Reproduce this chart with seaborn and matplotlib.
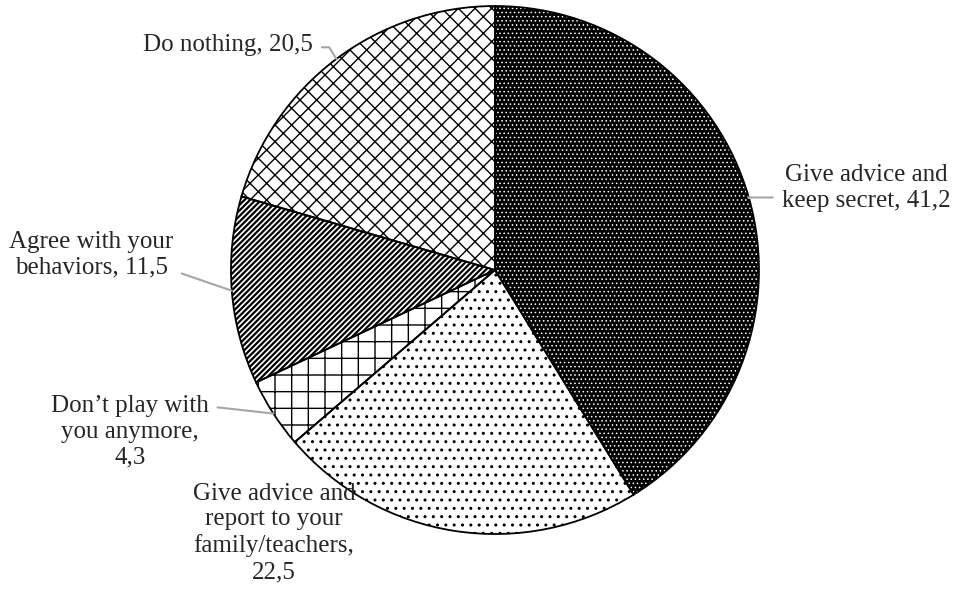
import numpy as np
import matplotlib
matplotlib.use("Agg")
import matplotlib.pyplot as plt
import seaborn as sns

# --- data (clockwise from 12 o'clock) ---
categories = [
    "Give advice and\nkeep secret",
    "Give advice and\nreport to your\nfamily/teachers",
    "Don\u2019t play with\nyou anymore",
    "Agree with your\nbehaviors",
    "Do nothing",
]
values = [41.2, 22.5, 4.3, 11.5, 20.5]
value_text = ["41,2", "22,5", "4,3", "11,5", "20,5"]
label_sep = [", ", ",\n", ",\n", ", ", ", "]

# --- styling / layout ---
hatches = ["....", "..", "+", "//////", "xx"]
face_colors = ["black", "white", "white", "white", "white"]
hatch_colors = ["white", "black", "black", "black", "black"]
hatch_widths = [0.6, 1.0, 1.0, 1.6, 1.0]
label_pos = [(1.405, 0.311), (-0.837, -0.996), (-1.383, -0.614), (-1.530, 0.057), (-1.011, 0.852)]
leader_relpos = [(0.0, 0.3), None, (1.0, 0.85), (1.0, 0.25), (1.0, 0.4)]
leader_conn = [
    "angle,angleA=0,angleB=-32,rad=0",
    None,
    "arc3,rad=0",
    "angle,angleA=0,angleB=-19,rad=0",
    "angle,angleA=0,angleB=-58,rad=0",
]

sns.set_style("white")
plt.rcParams["font.family"] = ["Liberation Serif", "DejaVu Serif"]

fig = plt.figure(figsize=(9.56, 5.96), dpi=100)
ax = fig.add_axes([0.2416, 0.104, 0.5523, 0.8859])

# pass 1: fills + hatches
wedges, _ = ax.pie(
    values,
    startangle=90,
    counterclock=False,
    colors=face_colors,
    wedgeprops=dict(linewidth=0),
)
for w, h, hc, hw in zip(wedges, hatches, hatch_colors, hatch_widths):
    w.set_hatch(h)
    w.set_edgecolor(hc)
    w.set_linewidth(0)
    if hasattr(w, "set_hatch_linewidth"):
        w.set_hatch_linewidth(hw)

# pass 2: black outlines on top
ax.pie(
    values,
    startangle=90,
    counterclock=False,
    colors=["none"] * len(values),
    wedgeprops=dict(linewidth=1.3, edgecolor="black"),
)
ax.set_xlim(-1.0, 1.0)
ax.set_ylim(-1.0, 1.0)

for w, cat, sep, val, pos, rp, cs in zip(
    wedges, categories, label_sep, value_text, label_pos, leader_relpos, leader_conn
):
    mid = np.deg2rad((w.theta1 + w.theta2) / 2)
    edge = (np.cos(mid), np.sin(mid))
    props = None
    if rp is not None:
        props = dict(arrowstyle="-", color="#a6a6a6", lw=1.5, relpos=rp,
                     shrinkA=4, shrinkB=0, connectionstyle=cs)
    ax.annotate(
        f"{cat}{sep}{val}",
        xy=edge,
        xytext=pos,
        textcoords="data",
        ha="center",
        va="center",
        multialignment="center",
        fontsize=18,
        linespacing=1.22,
        arrowprops=props,
        annotation_clip=False,
    )

fig.savefig("out.png", dpi=100)
